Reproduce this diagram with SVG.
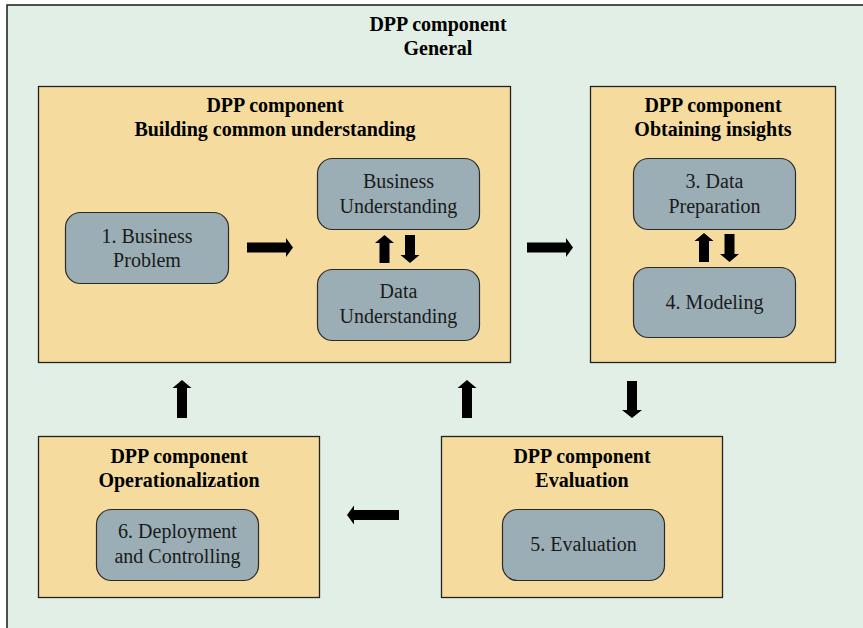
<svg xmlns="http://www.w3.org/2000/svg" width="863" height="628" viewBox="0 0 863 628">
<style>
.outer{fill:#E2EFE6;stroke:#1a1a1a;stroke-width:1.5}
.comp{fill:#F5DC9E;stroke:#222;stroke-width:1.3}
.step{fill:#9BAEB5;stroke:#2a2a2a;stroke-width:1.2}
.title{font-family:"Liberation Serif","Times New Roman",serif;font-weight:bold;font-size:20px;fill:#000;text-anchor:middle}
.lbl{font-family:"Liberation Serif","Times New Roman",serif;font-size:20px;fill:#1a1a1a;text-anchor:middle}
.arr{fill:#000}
</style>
<rect width="863" height="628" fill="#ffffff"/>
<g id="general">
<rect class="outer" x="7" y="5" width="880" height="650"/>
<text class="title" x="438" y="31">DPP component</text>
<text class="title" x="438" y="55">General</text>
</g>
<g id="building">
<rect class="comp" x="38.5" y="86.5" width="472" height="276"/>
<text class="title" x="275" y="112">DPP component</text>
<text class="title" x="275" y="136">Building common understanding</text>
</g>
<g id="insights">
<rect class="comp" x="590.5" y="86.5" width="245" height="276"/>
<text class="title" x="713" y="112">DPP component</text>
<text class="title" x="713" y="136">Obtaining insights</text>
</g>
<g id="operationalization">
<rect class="comp" x="38.5" y="436.5" width="281" height="161"/>
<text class="title" x="179" y="463">DPP component</text>
<text class="title" x="179" y="487">Operationalization</text>
</g>
<g id="evaluation">
<rect class="comp" x="441.5" y="436.5" width="281" height="161"/>
<text class="title" x="582" y="463">DPP component</text>
<text class="title" x="582" y="487">Evaluation</text>
</g>
<g id="step1">
<rect class="step" x="65.5" y="212.5" width="163" height="71" rx="15"/>
<text class="lbl" x="147" y="243">1. Business</text>
<text class="lbl" x="147" y="267">Problem</text>
</g>
<g id="business-understanding">
<rect class="step" x="317.5" y="158.5" width="162" height="71" rx="15"/>
<text class="lbl" x="398.5" y="188">Business</text>
<text class="lbl" x="398.5" y="213">Understanding</text>
</g>
<g id="data-understanding">
<rect class="step" x="317.5" y="269.5" width="162" height="71" rx="15"/>
<text class="lbl" x="398.5" y="298">Data</text>
<text class="lbl" x="398.5" y="323">Understanding</text>
</g>
<g id="step3">
<rect class="step" x="633.5" y="158.5" width="162" height="71" rx="15"/>
<text class="lbl" x="714.5" y="188">3. Data</text>
<text class="lbl" x="714.5" y="213">Preparation</text>
</g>
<g id="step4">
<rect class="step" x="633.5" y="267.5" width="162" height="70" rx="15"/>
<text class="lbl" x="714.5" y="309">4. Modeling</text>
</g>
<g id="step6">
<rect class="step" x="96.5" y="509.5" width="162" height="71" rx="15"/>
<text class="lbl" x="177.5" y="538">6. Deployment</text>
<text class="lbl" x="177.5" y="563">and Controlling</text>
</g>
<g id="step5">
<rect class="step" x="502.5" y="509.5" width="162" height="71" rx="15"/>
<text class="lbl" x="583.5" y="551">5. Evaluation</text>
</g>
<g id="connectors">
<polygon class="arr" points="247,242.5 286,242.5 286,238 293,247.5 286,257 286,252.5 247,252.5"/>
<polygon class="arr" points="527,242.5 566,242.5 566,238 573,247.5 566,257 566,252.5 527,252.5"/>
<polygon class="arr" points="379.5,263 379.5,243 375,243 384.5,235 394,243 389.5,243 389.5,263"/>
<polygon class="arr" points="405,235 415,235 415,255 419.5,255 410,263 400.5,255 405,255"/>
<polygon class="arr" points="699,262 699,241 694.5,241 704,233 713.5,241 709,241 709,262"/>
<polygon class="arr" points="724.5,234 734.5,234 734.5,254 739,254 729.5,262 720,254 724.5,254"/>
<polygon class="arr" points="627,381 637,381 637,410 642,410 632,418 622,410 627,410"/>
<polygon class="arr" points="177,418 177,388 172.5,388 182,380 191.5,388 187,388 187,418"/>
<polygon class="arr" points="462,418 462,388 457.5,388 467,380 476.5,388 472,388 472,418"/>
<polygon class="arr" points="399,510 354,510 354,505.5 347,515 354,524.5 354,520 399,520"/>
</g>
</svg>
